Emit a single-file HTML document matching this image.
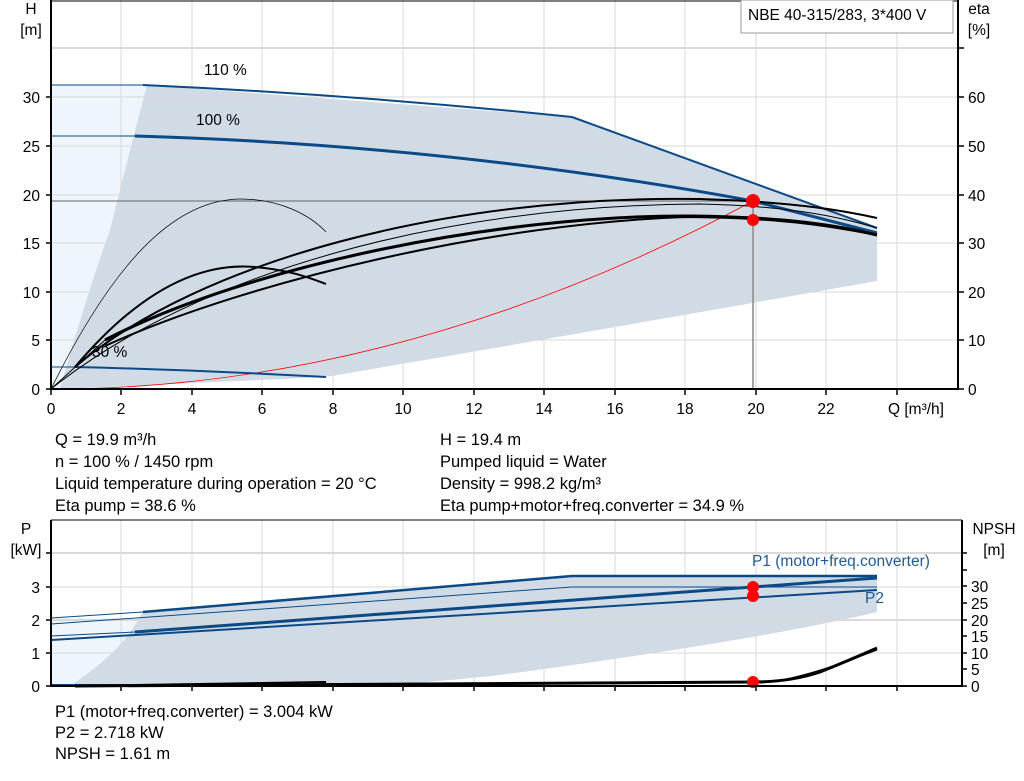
<!DOCTYPE html>
<html><head><meta charset="utf-8"><style>
body{margin:0;background:#fff;}
svg{display:block;font-family:"Liberation Sans",sans-serif;}
</style></head><body>
<svg width="1024" height="781" viewBox="0 0 1024 781">
<!-- TOP CHART -->
<rect x="51" y="85" width="96" height="304" fill="#eef5fc"/>
<path d="M147,85 L572,117 L877,228 L877,281 Q600,330 326,377 L60,389 Q85,300 110,230 Q130,150 147,85Z" fill="#d0dbe6"/>
<g stroke="#d9d9d9" stroke-width="1">
<line x1="121" y1="0" x2="121" y2="389"/><line x1="192" y1="0" x2="192" y2="389"/><line x1="262" y1="0" x2="262" y2="389"/><line x1="333" y1="0" x2="333" y2="389"/><line x1="403" y1="0" x2="403" y2="389"/><line x1="474" y1="0" x2="474" y2="389"/><line x1="544" y1="0" x2="544" y2="389"/><line x1="615" y1="0" x2="615" y2="389"/><line x1="685" y1="0" x2="685" y2="389"/><line x1="756" y1="0" x2="756" y2="389"/><line x1="826" y1="0" x2="826" y2="389"/><line x1="897" y1="0" x2="897" y2="389"/>
<line x1="51" y1="340" x2="958" y2="340"/><line x1="51" y1="292" x2="958" y2="292"/><line x1="51" y1="243" x2="958" y2="243"/><line x1="51" y1="195" x2="958" y2="195"/><line x1="51" y1="146" x2="958" y2="146"/><line x1="51" y1="97" x2="958" y2="97"/><line x1="51" y1="48" x2="958" y2="48" stroke-width="2"/>
</g>
<line x1="51" y1="201" x2="753" y2="201" stroke="#666"/>
<line x1="753" y1="201" x2="753" y2="389" stroke="#888" stroke-width="1.5"/>
<path d="M51,389 Q402,389 753,201" fill="none" stroke="#f00" stroke-width="0.8"/>
<g fill="none" stroke="#0b4a87">
<line x1="51" y1="85" x2="143" y2="85" stroke-width="1"/>
<path d="M143,85 Q360,95 572,117 L877,228" stroke-width="2"/>
<line x1="51" y1="136" x2="135" y2="136" stroke-width="1"/>
<path d="M135,136 Q450,145 753,201 L877,233" stroke-width="3"/>
<line x1="51" y1="367" x2="75" y2="367" stroke-width="1"/>
<path d="M75,367 Q200,370 326,377" stroke-width="2"/>
</g>
<g fill="none" stroke="#000">
<path d="M51,389 C110,270 170,200 240,199 C280,199 310,215 326,232" stroke-width="0.7"/>
<path d="M75,367 C140,290 200,262 255,267 C290,270 310,278 326,284" stroke-width="2"/>
<path d="M75,367 C200,260 450,195 700,199 C800,202 850,212 877,218" stroke-width="2"/>
<path d="M51,389 C200,270 450,205 700,204 C800,206 850,220 877,228" stroke-width="1"/>
<path d="M105,340 C250,265 500,215 690,216 C790,217 840,226 877,235" stroke-width="3"/>
<path d="M105,346 C250,280 500,222 690,217 C790,218 840,228 877,235" stroke-width="2"/>
<path d="M51,389 L105,340" stroke-width="1"/>
</g>
<circle cx="753" cy="201" r="7" fill="#f00"/>
<circle cx="753" cy="220" r="6" fill="#f00"/>
<g stroke="#000" stroke-width="2" fill="none">
<line x1="51" y1="0" x2="51" y2="390"/>
<line x1="958" y1="0" x2="958" y2="390"/>
<line x1="50" y1="389" x2="959" y2="389"/>
<line x1="51" y1="1" x2="958" y2="1" stroke-width="1"/>
</g>
<g stroke="#000" stroke-width="1.5">
<line x1="46" y1="389" x2="51" y2="389"/><line x1="46" y1="340" x2="51" y2="340"/><line x1="46" y1="292" x2="51" y2="292"/><line x1="46" y1="243" x2="51" y2="243"/><line x1="46" y1="195" x2="51" y2="195"/><line x1="46" y1="146" x2="51" y2="146"/><line x1="46" y1="97" x2="51" y2="97"/>
<line x1="958" y1="389" x2="964" y2="389"/><line x1="958" y1="340" x2="964" y2="340"/><line x1="958" y1="292" x2="964" y2="292"/><line x1="958" y1="243" x2="964" y2="243"/><line x1="958" y1="195" x2="964" y2="195"/><line x1="958" y1="146" x2="964" y2="146"/><line x1="958" y1="97" x2="964" y2="97"/><line x1="958" y1="48" x2="964" y2="48"/>
<line x1="51" y1="389" x2="51" y2="395"/><line x1="121" y1="389" x2="121" y2="395"/><line x1="192" y1="389" x2="192" y2="395"/><line x1="262" y1="389" x2="262" y2="395"/><line x1="333" y1="389" x2="333" y2="395"/><line x1="403" y1="389" x2="403" y2="395"/><line x1="474" y1="389" x2="474" y2="395"/><line x1="544" y1="389" x2="544" y2="395"/><line x1="615" y1="389" x2="615" y2="395"/><line x1="685" y1="389" x2="685" y2="395"/><line x1="756" y1="389" x2="756" y2="395"/><line x1="826" y1="389" x2="826" y2="395"/><line x1="897" y1="389" x2="897" y2="395"/>
</g>
<rect x="741" y="0" width="212" height="33" fill="#fff" stroke="#999"/>
<g font-size="15.5" fill="#000">
<text x="748" y="20">NBE 40-315/283, 3*400 V</text>
<text x="31" y="14" text-anchor="middle">H</text><text x="31" y="35" text-anchor="middle">[m]</text>
<text x="979" y="14" text-anchor="middle">eta</text><text x="979" y="35" text-anchor="middle">[%]</text>
<g text-anchor="end"><text x="40" y="395">0</text><text x="40" y="346">5</text><text x="40" y="298">10</text><text x="40" y="249">15</text><text x="40" y="201">20</text><text x="40" y="152">25</text><text x="40" y="103">30</text></g>
<g><text x="968" y="395">0</text><text x="968" y="346">10</text><text x="968" y="298">20</text><text x="968" y="249">30</text><text x="968" y="201">40</text><text x="968" y="152">50</text><text x="968" y="103">60</text></g>
<g text-anchor="middle"><text x="51" y="414">0</text><text x="121" y="414">2</text><text x="192" y="414">4</text><text x="262" y="414">6</text><text x="333" y="414">8</text><text x="403" y="414">10</text><text x="474" y="414">12</text><text x="544" y="414">14</text><text x="615" y="414">16</text><text x="685" y="414">18</text><text x="756" y="414">20</text><text x="826" y="414">22</text></g>
<text x="888" y="414">Q [m³/h]</text>
<text x="204" y="75">110 %</text><text x="196" y="125">100 %</text><text x="92" y="357">30 %</text>
</g>
<g font-size="16.5" fill="#000">
<text x="55" y="445">Q = 19.9 m³/h</text><text x="55" y="467">n = 100 % / 1450 rpm</text><text x="55" y="489">Liquid temperature during operation = 20 °C</text><text x="55" y="511">Eta pump = 38.6 %</text>
<text x="440" y="445">H = 19.4 m</text><text x="440" y="467">Pumped liquid = Water</text><text x="440" y="489">Density = 998.2 kg/m³</text><text x="440" y="511">Eta pump+motor+freq.converter = 34.9 %</text>
<text x="55" y="717">P1 (motor+freq.converter) = 3.004 kW</text><text x="55" y="738">P2 = 2.718 kW</text><text x="55" y="759">NPSH = 1.61 m</text>
</g>
<!-- BOTTOM CHART -->
<rect x="51" y="618" width="92" height="68" fill="#eef5fc"/>
<path d="M143,611 L572,575 L877,575 L877,612 Q760,640 500,675 Q400,686 330,686 L70,686 Q125,650 143,611Z" fill="#d0dbe6"/>
<g stroke="#d9d9d9" stroke-width="1">
<line x1="121" y1="520" x2="121" y2="686"/><line x1="192" y1="520" x2="192" y2="686"/><line x1="262" y1="520" x2="262" y2="686"/><line x1="333" y1="520" x2="333" y2="686"/><line x1="403" y1="520" x2="403" y2="686"/><line x1="474" y1="520" x2="474" y2="686"/><line x1="544" y1="520" x2="544" y2="686"/><line x1="615" y1="520" x2="615" y2="686"/><line x1="685" y1="520" x2="685" y2="686"/><line x1="756" y1="520" x2="756" y2="686"/><line x1="826" y1="520" x2="826" y2="686"/><line x1="897" y1="520" x2="897" y2="686"/>
<line x1="51" y1="653" x2="962" y2="653"/><line x1="51" y1="620" x2="962" y2="620" stroke-width="2"/><line x1="51" y1="587" x2="962" y2="587"/><line x1="51" y1="553" x2="962" y2="553" stroke-width="2"/>
</g>
<g fill="none" stroke="#0b4a87">
<line x1="51" y1="618" x2="143" y2="612" stroke-width="1"/>
<path d="M143,612 L572,576 L877,576" stroke-width="2.5"/>
<path d="M51,624 L572,587 L877,587" stroke-width="1"/>
<line x1="51" y1="636" x2="135" y2="632" stroke-width="1"/>
<path d="M135,632 L877,578" stroke-width="3"/>
<path d="M51,640 L135,635 L877,590" stroke-width="2"/>
<line x1="51" y1="685" x2="135" y2="685" stroke-width="2"/>
</g>
<g fill="none" stroke="#000">
<path d="M75,686 L753,682 Q790,682 820,672 Q850,660 877,648" stroke-width="3"/>
<path d="M760,683 Q800,680 877,650" stroke-width="1"/>
<path d="M135,685 L326,682" stroke-width="2"/>
</g>
<circle cx="753" cy="587" r="6" fill="#f00"/><circle cx="753" cy="596" r="6" fill="#f00"/><circle cx="753" cy="682" r="6" fill="#f00"/>
<g stroke="#000" stroke-width="2" fill="none">
<line x1="51" y1="520" x2="51" y2="687"/><line x1="962" y1="520" x2="962" y2="687"/><line x1="50" y1="686" x2="963" y2="686"/>
<line x1="51" y1="520" x2="962" y2="520" stroke-width="1"/>
</g>
<g stroke="#000" stroke-width="1.5">
<line x1="46" y1="686" x2="51" y2="686"/><line x1="46" y1="653" x2="51" y2="653"/><line x1="46" y1="620" x2="51" y2="620"/><line x1="46" y1="587" x2="51" y2="587"/><line x1="46" y1="553" x2="51" y2="553"/>
<line x1="962" y1="686" x2="967" y2="686"/><line x1="962" y1="669" x2="967" y2="669"/><line x1="962" y1="653" x2="967" y2="653"/><line x1="962" y1="636" x2="967" y2="636"/><line x1="962" y1="620" x2="967" y2="620"/><line x1="962" y1="603" x2="967" y2="603"/><line x1="962" y1="586" x2="967" y2="586"/><line x1="962" y1="570" x2="967" y2="570"/><line x1="962" y1="553" x2="967" y2="553"/>
<line x1="121" y1="686" x2="121" y2="691"/><line x1="192" y1="686" x2="192" y2="691"/><line x1="262" y1="686" x2="262" y2="691"/><line x1="333" y1="686" x2="333" y2="691"/><line x1="403" y1="686" x2="403" y2="691"/><line x1="474" y1="686" x2="474" y2="691"/><line x1="544" y1="686" x2="544" y2="691"/><line x1="615" y1="686" x2="615" y2="691"/><line x1="685" y1="686" x2="685" y2="691"/><line x1="756" y1="686" x2="756" y2="691"/><line x1="826" y1="686" x2="826" y2="691"/><line x1="897" y1="686" x2="897" y2="691"/>
</g>
<g font-size="15.5" fill="#000">
<text x="26" y="534" text-anchor="middle">P</text><text x="26" y="555" text-anchor="middle">[kW]</text>
<text x="994" y="534" text-anchor="middle">NPSH</text><text x="994" y="555" text-anchor="middle">[m]</text>
<g text-anchor="end"><text x="40" y="692">0</text><text x="40" y="659">1</text><text x="40" y="626">2</text><text x="40" y="593">3</text></g>
<g><text x="971" y="692">0</text><text x="971" y="675">5</text><text x="971" y="659">10</text><text x="971" y="642">15</text><text x="971" y="626">20</text><text x="971" y="609">25</text><text x="971" y="592">30</text></g>
<text x="752" y="566" fill="#1f5a94">P1 (motor+freq.converter)</text>
<text x="865" y="603" fill="#1f5a94">P2</text>
</g>
</svg>
</body></html>
